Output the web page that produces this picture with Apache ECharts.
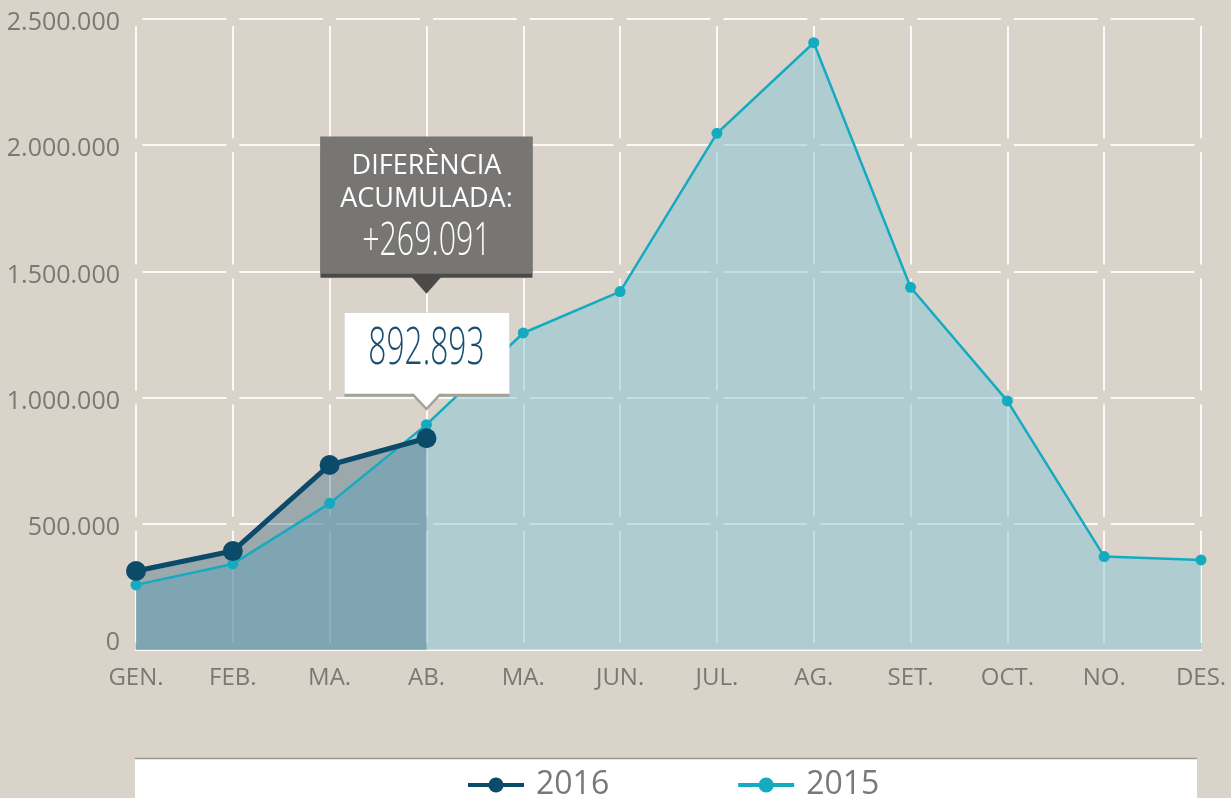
<!DOCTYPE html>
<html>
<head>
<meta charset="utf-8">
<script src="https://cdn.jsdelivr.net/npm/echarts@6/dist/echarts.min.js"></script>
<style>
html, body { margin: 0; padding: 0; background: #dad3c9; }
#chart { width: 1231px; height: 798px; }
</style>
</head>
<body>
<div id="chart"></div>
<script>
// dades llegides del gràfic
var months = ['GEN.', 'FEB.', 'MA.', 'AB.', 'MA.', 'JUN.', 'JUL.', 'AG.', 'SET.', 'OCT.', 'NO.', 'DES.'];
var values2016 = [313000, 392000, 733000, 839000];
var values2015 = [258000, 341000, 581000, 892893, 1256000, 1420000, 2047000, 2406000, 1437000, 987000, 370000, 357000];
var yMin = 0;
var yMax = 2500000;
var yStep = 500000;
var diffTitle = ['DIFERÈNCIA', 'ACUMULADA:'];
var diffLabel = '+269.091';
var valueLabel = '892.893';

var W = 1231, H = 798;
var gridLeft = 136, gridRight = 30, gridTop = 19, gridBottom = 148;
var colW = (W - gridLeft - gridRight) / (months.length - 1);
var rowH = (H - gridTop - gridBottom) / ((yMax - yMin) / yStep);

var fmt = function (v) {
	return String(v).replace(/\B(?=(\d{3})+(?!\d))/g, '.');
};

var chart = echarts.init(document.getElementById('chart'));

chart.setOption({
	backgroundColor: '#dad3c9',
	animation: false,
	textStyle: { fontFamily: 'Open Sans' },
	grid: { left: gridLeft, right: gridRight, top: gridTop, bottom: gridBottom },
	legend: {
		data: ['2016', '2015'],
		left: 466,
		top: 769,
		padding: 0,
		itemWidth: 56,
		itemHeight: 19,
		itemGap: 127,
		lineStyle: { width: 4 },
		textStyle: { fontSize: 32, color: '#7a7875', fontFamily: 'Open Sans', padding: [0, 0, 0, 7] }
	},
	xAxis: {
		type: 'category',
		data: months,
		boundaryGap: false,
		axisTick: { show: false },
		axisLine: { show: true, lineStyle: { color: '#ffffff', width: 2 } },
		axisLabel: { color: '#7a7875', fontSize: 24, margin: 16, interval: 0 },
		splitLine: {
			show: true,
			interval: 0,
			lineStyle: { color: 'rgba(255,255,255,0.85)', width: 2, type: [rowH - 14, 14], dashOffset: rowH - 7 }
		}
	},
	yAxis: {
		type: 'value',
		min: yMin,
		max: yMax,
		interval: yStep,
		axisLine: { show: false },
		axisTick: { show: false },
		axisLabel: {
			color: '#7a7875',
			fontSize: 25,
			margin: 16,
			formatter: function (v) {
				if (v === yMin) return '{lo|' + fmt(v) + '}';
				return '{n|' + fmt(v) + '}';
			},
			rich: {
				lo: { fontSize: 25, color: '#7a7875', padding: [0, 0, 14, 0] },
				n: { fontSize: 25, color: '#7a7875', padding: [8, 0, 0, 0] }
			}
		},
		splitLine: {
			lineStyle: { color: 'rgba(255,255,255,0.85)', width: 2, type: [colW - 13, 13], dashOffset: colW - 6.5 }
		}
	},
	series: [
		{
			name: '2015',
			type: 'line',
			data: values2015,
			symbol: 'circle',
			symbolSize: 11,
			showAllSymbol: true,
			lineStyle: { color: '#14abc1', width: 2.5 },
			itemStyle: { color: '#14abc1' },
			areaStyle: { color: 'rgba(132,199,215,0.5)', opacity: 1 }
		},
		{
			name: '2016',
			type: 'line',
			data: values2016,
			symbol: 'circle',
			symbolSize: 20,
			showAllSymbol: true,
			lineStyle: { color: '#0c4a6a', width: 5 },
			itemStyle: { color: '#0c4a6a' },
			areaStyle: { color: 'rgba(12,74,106,0.3)', opacity: 1 }
		}
	]
});

// etiquetes flotants sobre el punt d'abril
var p = chart.convertToPixel({ seriesIndex: 0 }, [3, values2015[3]]);
var tipX = p[0], tipY = p[1] - 15;
var tip2Y = tipY - 116;

chart.setOption({
	graphic: [
		{
			type: 'rect', z: 0,
			shape: { x: 135, y: 758, width: 1062, height: 60 },
			style: { fill: '#ffffff' }
		},
		{
			type: 'line', z: 0,
			shape: { x1: 135, y1: 758.5, x2: 1197, y2: 758.5 },
			style: { stroke: '#9c9890', lineWidth: 1.5 }
		},
		{
			type: 'group', x: tipX, y: tipY, z: 20,
			children: [
				{ type: 'rect', z: 20, shape: { x: -82, y: -97, width: 165, height: 84 }, style: { fill: '#a4a197' } },
				{ type: 'rect', z: 21, shape: { x: -82, y: -97, width: 165, height: 81 }, style: { fill: '#ffffff' } },
				{ type: 'polygon', z: 21, shape: { points: [[-16, -16], [16, -16], [0, 1]] }, style: { fill: '#a4a197' } },
				{ type: 'polygon', z: 22, shape: { points: [[-13.5, -17], [13.5, -17], [0, -2.5]] }, style: { fill: '#ffffff' } },
				{
					type: 'text', z: 23, x: 0, y: -60, scaleX: 0.61,
					style: { text: valueLabel, x: 0, y: 0, align: 'center', verticalAlign: 'middle', fontSize: 52, fontWeight: 300, fontFamily: 'Open Sans', fill: '#1b4e6e' }
				}
			]
		},
		{
			type: 'group', x: tipX, y: tip2Y, z: 20,
			children: [
				{ type: 'rect', z: 20, shape: { x: -106, y: -157, width: 212, height: 141 }, style: { fill: '#4b4a48' } },
				{ type: 'rect', z: 21, shape: { x: -106, y: -157, width: 212, height: 137 }, style: { fill: '#777674' } },
				{ type: 'polygon', z: 22, shape: { points: [[-15, -17], [15, -17], [0, 0]] }, style: { fill: '#4b4a48' } },
				{
					type: 'text', z: 23, x: 0, y: -127,
					style: { text: diffTitle[0], x: 0, y: 0, align: 'center', verticalAlign: 'middle', fontSize: 27, fontFamily: 'Open Sans', fill: '#ffffff' }
				},
				{
					type: 'text', z: 23, x: 0, y: -94,
					style: { text: diffTitle[1], x: 0, y: 0, align: 'center', verticalAlign: 'middle', fontSize: 27, fontFamily: 'Open Sans', fill: '#ffffff' }
				},
				{
					type: 'text', z: 23, x: 0, y: -52, scaleX: 0.66,
					style: { text: diffLabel, x: 0, y: 0, align: 'center', verticalAlign: 'middle', fontSize: 46, fontWeight: 300, fontFamily: 'Open Sans', fill: '#ffffff' }
				}
			]
		}
	]
});
</script>
</body>
</html>
